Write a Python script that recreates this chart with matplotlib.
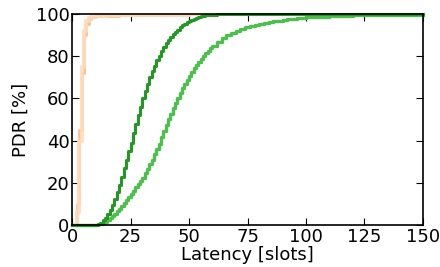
import numpy as np
import matplotlib
matplotlib.use("Agg")
import matplotlib.pyplot as plt

# latency in slots vs. cumulative PDR [%]
orange_x = [0, 1, 2, 3, 4, 5, 6, 7, 8, 10, 15, 20, 30, 50, 100, 150]
orange_a = [0, 0, 6, 40, 75, 92, 96.5, 98, 98.5, 99, 99.3, 99.5, 99.7, 99.8, 99.9, 100]
orange_b = [0, 0, 10, 45, 72, 90, 95, 97.5, 98.3, 98.9, 99.2, 99.4, 99.6, 99.8, 99.9, 100]

dark_x = list(range(0, 61)) + [62, 64, 66, 70, 150]
dark_y = [0] * 10 + [
    0.2, 0.5, 1.2, 2.2, 3.5, 5.2, 7.2, 9.5, 12.3, 15.5,
    19, 23, 27, 31, 35, 39, 43.5, 48, 52, 56,
    60, 63.5, 67, 70, 73, 75.5, 78, 80.2, 82.3, 84.3,
    86, 87.6, 89, 90.3, 91.5, 92.6, 93.6, 94.5, 95.3, 96,
    96.6, 97.2, 97.7, 98.1, 98.5, 98.8, 99.1, 99.3, 99.5, 99.6,
    99.7, 99.8, 99.85, 99.9, 100, 100]

light_x = list(range(0, 61)) + list(range(62, 101, 2)) + list(range(105, 151, 5))
light_y = [0] * 10 + [
    0.1, 0.3, 0.6, 1.0, 1.6, 2.3, 3.2, 4.2, 5.3, 6.5,
    7.8, 9.1, 10.5, 11.9, 13.3, 14.8, 16.3, 17.8, 19.3, 20.8,
    22.5, 24.5, 26.5, 28.7, 31, 33.5, 36, 38.5, 41.5, 44.5,
    47.5, 50, 52.7, 55.3, 57.8, 60.2, 62.5, 64.7, 66.8, 68.8,
    70.7, 72.5, 74.2, 75.8, 77.3, 78.7, 80, 81.3, 82.6, 83.8,
    85,
    86.9, 88.5, 89.9, 91.1, 92.1, 93, 93.7, 94.3, 94.9, 95.3,
    95.7, 96.1, 96.5, 96.8, 97.1, 97.4, 97.6, 97.9, 98.1, 98.3,
    98.7, 99, 99.2, 99.35, 99.45, 99.55, 99.6, 99.65, 99.7, 99.7]

fig = plt.figure(figsize=(4.4, 2.67), dpi=100)
ax = fig.add_axes([0.164, 0.157, 0.797, 0.791])

ax.step(orange_x, orange_b, where="post", color="#fdbe88", lw=2.0)
ax.step(orange_x, orange_a, where="post", color="#ffdcbc", lw=3.0, alpha=0.9)
ax.step(light_x, light_y, where="post", color="#4dbf4d", lw=2.4, clip_on=False)
ax.step(dark_x, dark_y, where="post", color="#229922", lw=2.2, clip_on=False)

ax.set_xlim(0, 150)
ax.set_ylim(0, 100)
ax.set_xticks([0, 25, 50, 75, 100, 125, 150])
ax.set_yticks([0, 20, 40, 60, 80, 100])
ax.tick_params(direction="in", top=True, right=True, length=5, labelsize=13, pad=2)
for s in ax.spines.values():
    s.set_linewidth(1.2)
    s.set_zorder(3)
ax.set_xlabel("Latency [slots]", fontsize=13, labelpad=0)
ax.set_ylabel("PDR [%]", fontsize=13, labelpad=4)

fig.savefig("out.png", dpi=100)
